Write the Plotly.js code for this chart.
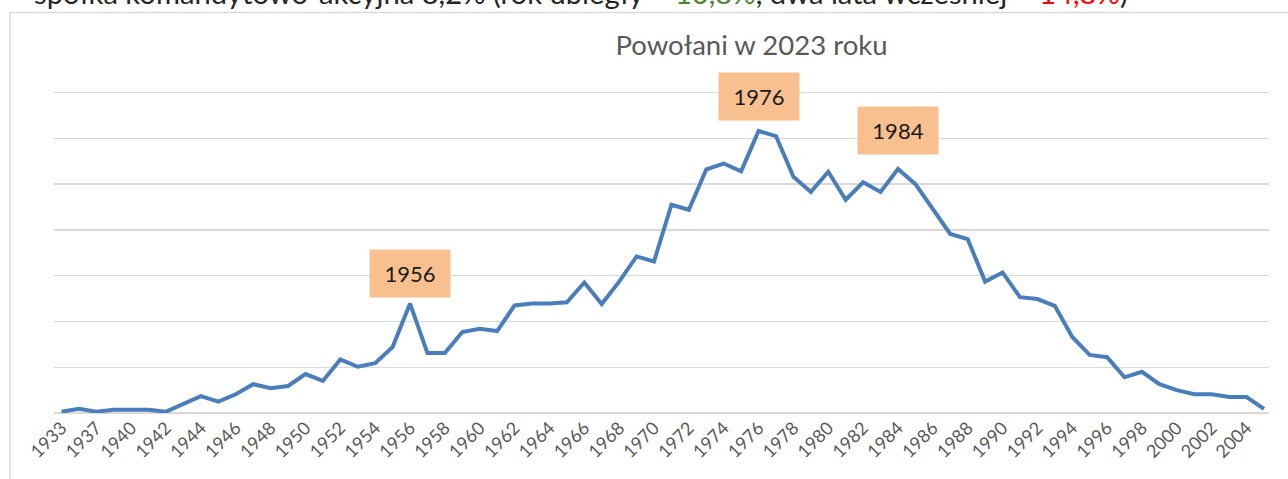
<!DOCTYPE html>
<html>
<head>
<meta charset="utf-8">
<script src="https://cdn.plot.ly/plotly-3.0.1.min.js"></script>
<style>html,body{margin:0;padding:0;background:#fff;}#chart{width:1288px;height:479px;}</style>
</head>
<body>
<div id="chart"></div>
<script>
const years = ["1933","1935","1937","1938","1940","1941","1942","1943","1944","1945","1946","1947","1948","1949",
  "1950","1951","1952","1953","1954","1955","1956","1957","1958","1959","1960","1961","1962","1963","1964","1965",
  "1966","1967","1968","1969","1970","1971","1972","1973","1974","1975","1976","1977","1978","1979","1980","1981",
  "1982","1983","1984","1985","1986","1987","1988","1989","1990","1991","1992","1993","1994","1995","1996","1997",
  "1998","1999","2000","2001","2002","2003","2004","2005"];
const appointed = [0.3,0.9,0.3,0.7,0.7,0.7,0.3,2.1,3.7,2.5,4.1,6.3,5.4,5.9,
  8.5,7.0,11.7,10.1,10.9,14.4,23.9,13.1,13.1,17.7,18.4,17.9,23.5,23.9,23.9,24.2,
  28.5,23.8,28.7,34.2,33.1,45.5,44.4,53.2,54.5,52.8,61.6,60.5,51.6,48.3,52.7,46.6,
  50.4,48.3,53.3,50.0,44.4,39.1,38.0,28.7,30.7,25.3,24.9,23.4,16.6,12.7,12.2,7.8,
  9.0,6.3,5.0,4.1,4.1,3.5,3.5,0.9];
const tickYears = years.filter((y, i) => i % 2 === 0);
const gridValues = [0,10,20,30,40,50,60,70];
const highlighted = ["1956","1976","1984"];
const highlightShift = {"1956": 30, "1976": 35, "1984": 39};
const chartTitle = "Powołani w 2023 roku";
const topText = 'spółka komandytowo-akcyjna 8,2% (rok ubiegły – <span style="color:#548235">10,8%</span>, dwa lata wcześniej – <span style="color:#FF0000">14,8%</span>)';

const FONT = "Lato, 'Open Sans', sans-serif";

const annotations = highlighted.map(y => {
  const i = years.indexOf(y);
  return {
    x: i, y: appointed[i], xref: 'x', yref: 'y',
    text: y, showarrow: false, yshift: highlightShift[y],
    bgcolor: '#F8C08F', width: 80, height: 47, borderpad: 0,
    font: {family: FONT, size: 22, color: '#1a1a1a'}
  };
});
annotations.push({
  xref: 'paper', yref: 'paper', x: -0.0177, y: 1.295, xanchor: 'left', yanchor: 'middle',
  text: topText, showarrow: false, font: {family: FONT, size: 29.2, color: '#262626'}
});

const data = [{
  type: 'scatter', mode: 'lines', x: years, y: appointed,
  line: {color: '#4A7EBB', width: 4}, hoverinfo: 'x+y'
}];

const layout = {
  width: 1288, height: 479,
  margin: {l: 54, r: 19, t: 88, b: 66},
  paper_bgcolor: '#ffffff', plot_bgcolor: '#ffffff',
  showlegend: false,
  title: {text: chartTitle, x: 0.5835, xanchor: 'center', y: 0.905, yanchor: 'middle',
          font: {family: FONT, size: 27.5, color: '#595959'}},
  xaxis: {
    type: 'category', range: [-0.43, 69.29],
    tickmode: 'array', tickvals: tickYears, ticktext: tickYears,
    tickangle: -45, showgrid: false, zeroline: false, showline: false, ticks: '',
    tickfont: {family: FONT, size: 18, color: '#595959'}
  },
  yaxis: {
    range: [0, 71], tickvals: gridValues, showticklabels: false, ticks: '',
    showgrid: true, gridcolor: '#D9D9D9', gridwidth: 1.3, zeroline: true,
    zerolinecolor: '#D9D9D9', zerolinewidth: 1.3, showline: false, fixedrange: true
  },
  shapes: [{
    type: 'rect', xref: 'paper', yref: 'paper',
    x0: -0.0362, y0: -0.6, x1: 1.2, y1: (413 - 12.5) / 325,
    line: {color: '#D9D9D9', width: 1.5}, fillcolor: 'rgba(0,0,0,0)', layer: 'below'
  }],
  annotations: annotations
};

Plotly.newPlot('chart', data, layout, {displayModeBar: false, staticPlot: true});
</script>
</body>
</html>
